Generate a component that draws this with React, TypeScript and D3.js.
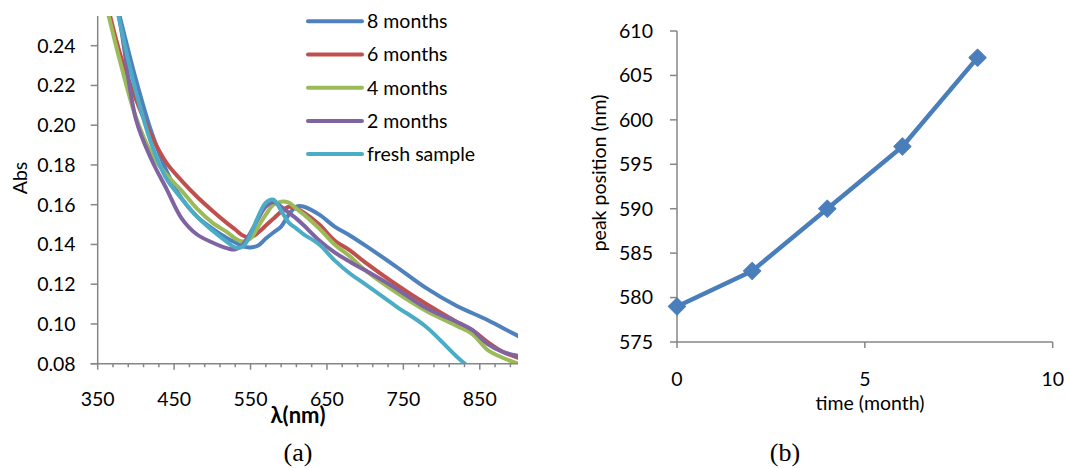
import React from 'react';
import * as d3 from 'd3';

// ---------- Data (a) ----------
const wavelengths = [360, 380, 400, 420, 440, 460, 480, 500, 520, 530, 540, 550, 560, 570, 580, 590, 600, 610, 620, 640, 660, 680, 700, 740, 780, 820, 840, 860, 880, 900];
const abs8Months = [0.285, 0.253, 0.223, 0.197, 0.177, 0.163, 0.154, 0.148, 0.143, 0.141, 0.139, 0.1385, 0.1395, 0.143, 0.146, 0.149, 0.155, 0.159, 0.159, 0.155, 0.149, 0.1445, 0.1395, 0.129, 0.118, 0.109, 0.1055, 0.102, 0.098, 0.094];
const abs6Months = [0.265, 0.235, 0.213, 0.195, 0.181, 0.172, 0.164, 0.157, 0.1505, 0.1475, 0.1445, 0.1435, 0.146, 0.1495, 0.153, 0.1565, 0.159, 0.158, 0.156, 0.15, 0.142, 0.137, 0.131, 0.12, 0.11, 0.101, 0.097, 0.091, 0.086, 0.083];
const abs4Months = [0.262, 0.231, 0.204, 0.186, 0.175, 0.167, 0.158, 0.151, 0.146, 0.143, 0.1415, 0.143, 0.149, 0.155, 0.16, 0.1615, 0.161, 0.158, 0.155, 0.148, 0.14, 0.134, 0.127, 0.116, 0.1065, 0.099, 0.095, 0.087, 0.083, 0.08];
const abs2Months = [0.29, 0.25, 0.203, 0.183, 0.168, 0.153, 0.145, 0.141, 0.138, 0.1375, 0.14, 0.146, 0.153, 0.159, 0.1614, 0.159, 0.156, 0.153, 0.1495, 0.142, 0.136, 0.1313, 0.127, 0.118, 0.108, 0.101, 0.097, 0.09, 0.086, 0.084];
const absFresh = [0.29, 0.25, 0.217, 0.191, 0.173, 0.163, 0.154, 0.147, 0.141, 0.1385, 0.139, 0.145, 0.154, 0.161, 0.1625, 0.157, 0.151, 0.148, 0.145, 0.14, 0.132, 0.1254, 0.12, 0.109, 0.0985, 0.0835, 0.077, 0.072, 0.068, 0.064];
const seriesNames = ['8 months', '6 months', '4 months', '2 months', 'fresh sample'];
const seriesValues = [abs8Months, abs6Months, abs4Months, abs2Months, absFresh];
const seriesColors = ['#4F81BD', '#C0504D', '#9BBB59', '#8064A2', '#4BACC6'];
const absTicks = [0.08, 0.1, 0.12, 0.14, 0.16, 0.18, 0.2, 0.22, 0.24];
const wlLabelTicks = [350, 450, 550, 650, 750, 850];
const wlMinorTicks = d3.range(350, 900, 20);

// ---------- Data (b) ----------
const timeMonths = [0, 2, 4, 6, 8];
const peakPositions = [579, 583, 590, 597, 607];
const peakTicks = [575, 580, 585, 590, 595, 600, 605, 610];
const timeTicks = [0, 5, 10];

const FONT = 'Lato, "Open Sans", sans-serif';
const SERIF = '"Liberation Serif", "Times New Roman", serif';
const AXIS = '#868686';

export default function App() {
  // chart (a)
  const xA = d3.scaleLinear().domain([350, 900]).range([97.7, 518]);
  const yA = d3.scaleLinear().domain([0.08, 0.24]).range([363.7, 45.7]);
  const topA = yA(0.255);
  const lineA = d3
    .line<number>()
    .x((_, i) => xA(wavelengths[i]))
    .y((d) => yA(d))
    .curve(d3.curveCatmullRom.alpha(0.5));

  // chart (b)
  const xB = d3.scaleLinear().domain([0, 10]).range([677, 1052.7]);
  const yB = d3.scaleLinear().domain([575, 610]).range([342, 31]);
  const lineB = d3
    .line<number>()
    .x((_, i) => xB(timeMonths[i]))
    .y((d) => yB(d));
  const diamond = d3.symbol().type(d3.symbolSquare).size(150)();

  return (
    <svg
      width={1067}
      height={468}
      style={{ position: 'absolute', left: 0, top: 0, background: '#fff' }}
      fontFamily={FONT}
    >
      <rect width={1067} height={468} fill="#fff" />
      <defs>
        <clipPath id="clipA">
          <rect x={xA(350)} y={topA} width={xA(900) - xA(350)} height={yA(0.08) - topA} />
        </clipPath>
      </defs>

      {/* ===== Chart (a) ===== */}
      <g clipPath="url(#clipA)">
        {seriesValues.map((vals, k) => (
          <path
            key={seriesNames[k]}
            d={lineA(vals) || ''}
            fill="none"
            stroke={seriesColors[k]}
            strokeWidth={4}
            strokeLinejoin="round"
            strokeLinecap="round"
          />
        ))}
      </g>
      {/* y axis */}
      <line x1={xA(350)} x2={xA(350)} y1={topA} y2={yA(0.08)} stroke={AXIS} strokeWidth={1.5} />
      {absTicks.map((t) => (
        <g key={t}>
          <line x1={xA(350) - 7} x2={xA(350)} y1={yA(t)} y2={yA(t)} stroke={AXIS} strokeWidth={1.5} />
          <text x={xA(350) - 22} y={yA(t)} dy="0.35em" textAnchor="end" fontSize={19.5} fill="#000">
            {d3.format('.2f')(t)}
          </text>
        </g>
      ))}
      {/* x axis */}
      <line x1={xA(350) - 7} x2={xA(900)} y1={yA(0.08)} y2={yA(0.08)} stroke={AXIS} strokeWidth={1.5} />
      {wlMinorTicks.map((t) => (
        <line
          key={t}
          x1={xA(t)}
          x2={xA(t)}
          y1={yA(0.08)}
          y2={yA(0.08) + ((t - 350) % 100 === 0 ? 6 : 3.5)}
          stroke={AXIS}
          strokeWidth={1.5}
        />
      ))}
      {wlLabelTicks.map((t) => (
        <text key={t} x={xA(t)} y={406} textAnchor="middle" fontSize={19.5} fill="#000">
          {t}
        </text>
      ))}
      <text x={298} y={423} textAnchor="middle" fontSize={22} fontWeight="bold" fill="#000">
        λ(nm)
      </text>
      <text transform="translate(27,178) rotate(-90)" textAnchor="middle" fontSize={19.5} fill="#000">
        Abs
      </text>
      {/* legend */}
      {seriesNames.map((name, k) => {
        const ly = 21.3 + k * 33.2;
        return (
          <g key={name}>
            <line x1={308} x2={362} y1={ly} y2={ly} stroke={seriesColors[k]} strokeWidth={4} strokeLinecap="round" />
            <text x={367} y={ly} dy="0.35em" fontSize={19.5} fill="#000">
              {name}
            </text>
          </g>
        );
      })}
      <text x={298} y={461} textAnchor="middle" fontSize={26} fontFamily={SERIF} fill="#000">
        (a)
      </text>

      {/* ===== Chart (b) ===== */}
      <line x1={xB(0)} x2={xB(0)} y1={yB(610)} y2={yB(575)} stroke={AXIS} strokeWidth={1.5} />
      {peakTicks.map((t) => (
        <g key={t}>
          <line x1={xB(0) - 7} x2={xB(0)} y1={yB(t)} y2={yB(t)} stroke={AXIS} strokeWidth={1.5} />
          <text x={xB(0) - 24} y={yB(t)} dy="0.35em" textAnchor="end" fontSize={19.5} fill="#000">
            {t}
          </text>
        </g>
      ))}
      <line x1={xB(0)} x2={xB(10)} y1={yB(575)} y2={yB(575)} stroke={AXIS} strokeWidth={1.5} />
      {timeTicks.map((t) => (
        <g key={t}>
          <line x1={xB(t)} x2={xB(t)} y1={yB(575)} y2={yB(575) + 6} stroke={AXIS} strokeWidth={1.5} />
          <text x={xB(t)} y={386} textAnchor="middle" fontSize={19.5} fill="#000">
            {t}
          </text>
        </g>
      ))}
      <text x={870} y={410} textAnchor="middle" fontSize={19.5} fill="#000">
        time (month)
      </text>
      <text transform="translate(606,173) rotate(-90)" textAnchor="middle" fontSize={19.5} fill="#000">
        peak position (nm)
      </text>
      <path d={lineB(peakPositions) || ''} fill="none" stroke="#4A7EBB" strokeWidth={4.5} strokeLinejoin="round" />
      {peakPositions.map((v, i) => (
        <path
          key={i}
          d={diamond || ''}
          transform={`translate(${xB(timeMonths[i])},${yB(v)}) rotate(45)`}
          fill="#4A7EBB"
          stroke="#4A7EBB"
          strokeWidth={1}
          strokeLinejoin="round"
        />
      ))}
      <text x={785} y={461} textAnchor="middle" fontSize={26} fontFamily={SERIF} fill="#000">
        (b)
      </text>
    </svg>
  );
}
